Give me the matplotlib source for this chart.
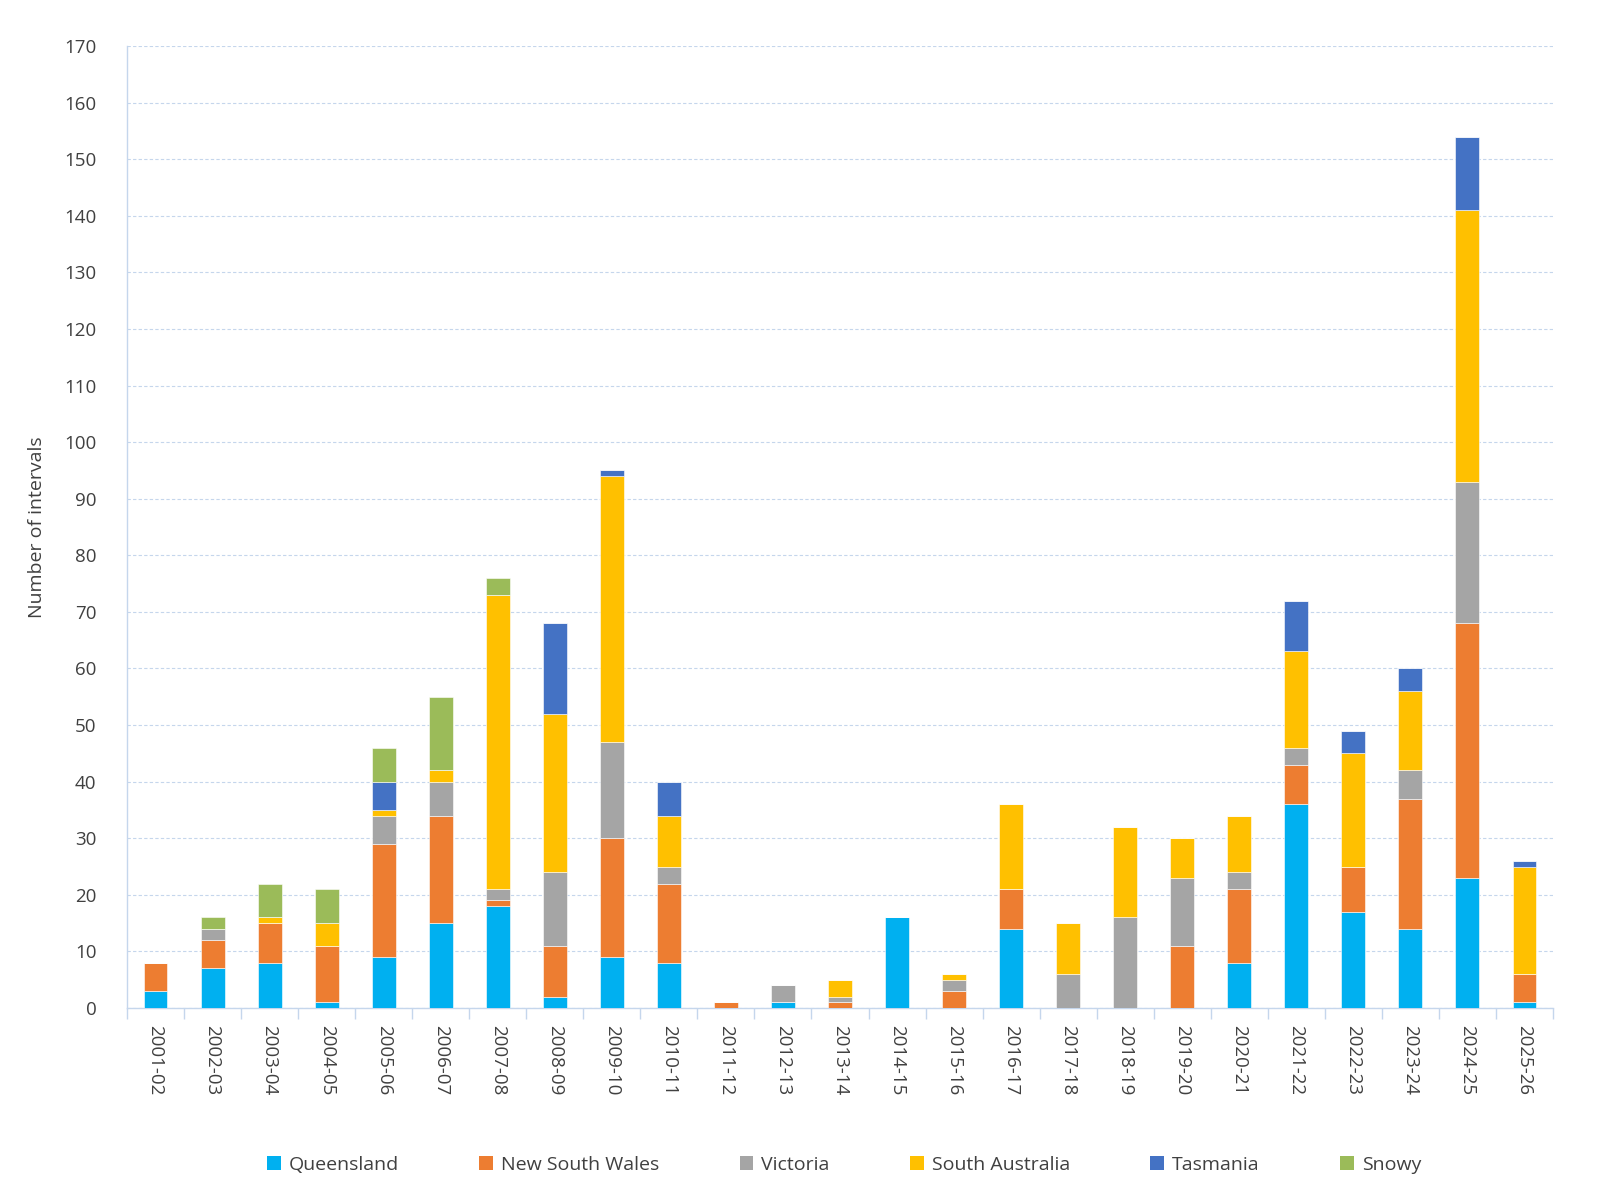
import matplotlib
matplotlib.use("Agg")
import matplotlib.pyplot as plt
import numpy as np
from matplotlib.patches import Patch

plt.rcParams["font.family"] = ["Open Sans", "DejaVu Sans"]

years = ["2001-02", "2002-03", "2003-04", "2004-05", "2005-06", "2006-07", "2007-08",
         "2008-09", "2009-10", "2010-11", "2011-12", "2012-13", "2013-14", "2014-15",
         "2015-16", "2016-17", "2017-18", "2018-19", "2019-20", "2020-21", "2021-22",
         "2022-23", "2023-24", "2024-25", "2025-26"]

queensland = [3, 7, 8, 1, 9, 15, 18, 2, 9, 8, 0, 1, 0, 16, 0, 14, 0, 0, 0, 8, 36, 17, 14, 23, 1]
new_south_wales = [5, 5, 7, 10, 20, 19, 1, 9, 21, 14, 1, 0, 1, 0, 3, 7, 0, 0, 11, 13, 7, 8, 23, 45, 5]
victoria = [0, 2, 0, 0, 5, 6, 2, 13, 17, 3, 0, 3, 1, 0, 2, 0, 6, 16, 12, 3, 3, 0, 5, 25, 0]
south_australia = [0, 0, 1, 4, 1, 2, 52, 28, 47, 9, 0, 0, 3, 0, 1, 15, 9, 16, 7, 10, 17, 20, 14, 48, 19]
tasmania = [0, 0, 0, 0, 5, 0, 0, 16, 1, 6, 0, 0, 0, 0, 0, 0, 0, 0, 0, 0, 9, 4, 4, 13, 1]
snowy = [0, 2, 6, 6, 6, 13, 3, 0, 0, 0, 0, 0, 0, 0, 0, 0, 0, 0, 0, 0, 0, 0, 0, 0, 0]

series = [
    ("Queensland", queensland, "#00B0F0"),
    ("New South Wales", new_south_wales, "#ED7D31"),
    ("Victoria", victoria, "#A5A5A5"),
    ("South Australia", south_australia, "#FFC000"),
    ("Tasmania", tasmania, "#4472C4"),
    ("Snowy", snowy, "#9BBB59"),
]

W, H = 1600, 1201
left, right, top, bot = 127, 1553, 46, 1008

fig = plt.figure(figsize=(16, 12.01), dpi=100)
ax = fig.add_axes([left / W, 1 - bot / H, (right - left) / W, (bot - top) / H])

x = np.arange(len(years))
bottom = np.zeros(len(years))
for name, vals, col in series:
    v = np.array(vals, dtype=float)
    ax.bar(x, v, width=0.42, bottom=bottom, color=col, edgecolor="white",
           linewidth=0.4, label=name, zorder=3)
    bottom += v

ax.set_xlim(-0.5, len(years) - 0.5)
ax.set_ylim(0, 170)
ax.set_yticks(range(0, 171, 10))
ax.tick_params(axis="y", length=0, labelsize=13.5, colors="#404040", pad=22)
ax.yaxis.grid(True, linestyle=(0, (3, 2)), color="#C5D6EC", linewidth=0.8, zorder=0)

ax.set_xticks(x)
ax.set_xticklabels(years, rotation=270, fontsize=13.5, color="#404040")
ax.tick_params(axis="x", length=0, pad=12)
ax.set_xticks(np.arange(-0.5, len(years), 1), minor=True)
ax.tick_params(axis="x", which="minor", length=8, color="#C5D6EC", width=1)

for s in ["top", "right"]:
    ax.spines[s].set_visible(False)
for s in ["left", "bottom"]:
    ax.spines[s].set_color("#C5D6EC")
    ax.spines[s].set_linewidth(1)

ax.set_ylabel("Number of intervals", fontsize=14, color="#404040", labelpad=13)

handles = [Patch(facecolor=c, label=n) for n, _, c in series]
fig.legend(handles=handles, loc="center", bbox_to_anchor=(844 / W, 1 - 1165 / H),
           ncol=6, frameon=False, fontsize=14, handlelength=0.7, handleheight=0.7,
           handletextpad=0.4, columnspacing=4.15, labelcolor="#404040")

fig.savefig("out.png", dpi=100)
